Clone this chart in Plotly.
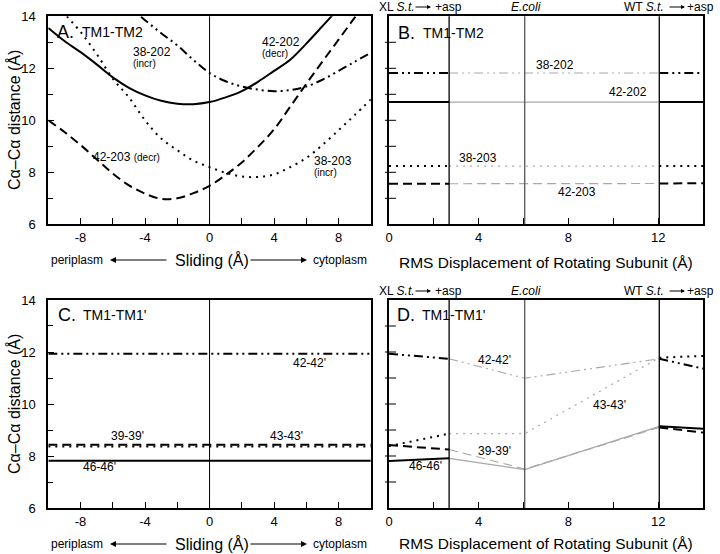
import plotly.graph_objects as go

# ---- data ----
# panel A: Ca-Ca distance vs sliding (A)
slide_x = [-10, -9, -8, -7, -6, -5, -4, -3, -2, -1, 0, 1, 2, 3, 4, 5, 6, 7, 8, 9, 10]
tm2_42_202 = [13.55, 13.05, 12.62, 12.15, 11.65, 11.25, 10.96, 10.75, 10.64, 10.62, 10.70,
              10.88, 11.12, 11.48, 11.90, 12.33, 12.95, 13.62, 14.30, 15.00, 15.70]
tm2_42_203 = [10.00, 9.55, 9.05, 8.50, 7.95, 7.50, 7.18, 6.98, 7.00, 7.20, 7.48,
              7.90, 8.38, 8.98, 9.65, 10.52, 11.40, 12.26, 13.10, 13.95, 14.80]
tm2_38_203 = [14.80, 14.10, 13.40, 12.55, 11.60, 10.88, 10.00, 9.30, 8.85, 8.45, 8.20,
              7.98, 7.84, 7.82, 7.92, 8.20, 8.55, 9.05, 9.62, 10.20, 10.80]
tm2_38_202 = [17.20, 16.60, 16.00, 15.40, 14.90, 14.38, 13.85, 13.35, 12.88, 12.32, 11.82,
              11.50, 11.30, 11.18, 11.12, 11.16, 11.30, 11.56, 11.90, 12.25, 12.60]

# panels B/D: RMS displacement of rotating subunit
rms_x = [0, 2.68, 6.05, 12.05, 14]
b_38_202 = [11.82, 11.82, 11.82, 11.82, 11.82]
b_42_202 = [10.70, 10.70, 10.70, 10.70, 10.70]
b_38_203 = [8.24, 8.24, 8.24, 8.24, 8.24]
b_42_203 = [7.56, 7.56, 7.56, 7.57, 7.58]

d_42_42 = [11.93, 11.74, 10.99, 11.74, 11.36]
d_43_43 = [8.38, 8.86, 8.86, 11.78, 11.85]
d_39_39 = [8.42, 8.25, 7.50, 9.10, 8.90]
d_46_46 = [7.81, 7.91, 7.48, 9.14, 9.05]

# panel C: TM1-TM1' does not change with sliding
c_x = [-10, 10]
c_42_42 = [11.93, 11.93]
c_39_39 = [8.43, 8.43]
c_43_43 = [8.37, 8.37]
c_46_46 = [7.82, 7.82]

strain_x = [2.68, 6.05, 12.05]

slide_ticks = [-8, -4, 0, 4, 8]
slide_text = ["-8", "-4", "0", "4", "8"]
rms_ticks = [0, 4, 8, 12]
dist_ticks = [6, 8, 10, 12, 14]
side_ticks = [7, 8, 9, 10, 11, 12, 13]

FONT = "Liberation Sans, Arial, DejaVu Sans"
DASH = "9px,5px"
DOT = "2px,5px"
DDOT = "9px,4px,2px,4px,2px,4px"
GRAY = "#a8a8a8"

fig = go.Figure()


def line(x, y, ax, dash, color="black", width=2, shape="linear"):
    fig.add_trace(go.Scatter(x=x, y=y, mode="lines", xaxis=ax[0], yaxis=ax[1],
                             line=dict(color=color, width=width, dash=dash, shape=shape),
                             showlegend=False, hoverinfo="skip"))


# A
for ys, d in [(tm2_42_202, "solid"), (tm2_42_203, DASH), (tm2_38_203, DOT), (tm2_38_202, DDOT)]:
    line(slide_x, ys, ("x", "y"), d, shape="spline")

# C
for ys, d in [(c_42_42, DDOT), (c_39_39, DASH), (c_43_43, DOT), (c_46_46, "solid")]:
    line(c_x, ys, ("x3", "y3"), d)


def segmented(ys, ax, d):
    line(rms_x[:2], ys[:2], ax, d)
    line(rms_x[1:4], ys[1:4], ax, d, color=GRAY, width=1.2)
    line(rms_x[3:], ys[3:], ax, d)


for ys, d in [(b_38_202, DDOT), (b_42_202, "solid"), (b_38_203, DOT), (b_42_203, DASH)]:
    segmented(ys, ("x2", "y2"), d)
for ys, d in [(d_42_42, DDOT), (d_43_43, DOT), (d_39_39, DASH), (d_46_46, "solid")]:
    segmented(ys, ("x4", "y4"), d)

# domains in paper fractions (720 x 554 page, zero margins)
xl = [0.0671, 0.515]
xr = [0.5403, 0.9764]
yt = [0.5951, 0.9706]
yb = [0.0830, 0.4585]

axline = dict(showline=True, linecolor="black", linewidth=2, mirror=True, automargin=False,
              showgrid=False, zeroline=False, ticks="inside", ticklen=6,
              tickcolor="black", tickfont=dict(family=FONT, size=13, color="black"))

sx = dict(axline, range=[-10, 10], tickvals=slide_ticks, ticktext=slide_text,
          ticklabelstandoff=0,
          minor=dict(dtick=2, ticks="inside", ticklen=6, tickcolor="black"))
rx = dict(axline, range=[0, 14], tickvals=rms_ticks, ticklabelstandoff=0,
          minor=dict(dtick=2, ticks="inside", ticklen=6, tickcolor="black"))
ly = dict(axline, range=[6, 14], tickvals=dist_ticks, ticklabelstandoff=8,
          minor=dict(dtick=1, ticks="inside", ticklen=5, tickcolor="black"))
ry = dict(axline, range=[6, 14], showticklabels=False, ticks="")

fig.update_layout(
    width=720, height=554, margin=dict(l=0, r=0, t=0, b=0, autoexpand=False),
    paper_bgcolor="white", plot_bgcolor="white",
    font=dict(family=FONT, color="black"),
    xaxis=dict(sx, domain=xl, anchor="y"),
    yaxis=dict(ly, domain=yt, anchor="x"),
    xaxis2=dict(rx, domain=xr, anchor="y2"),
    yaxis2=dict(ry, domain=yt, anchor="x2"),
    xaxis3=dict(sx, domain=xl, anchor="y3"),
    yaxis3=dict(ly, domain=yb, anchor="x3"),
    xaxis4=dict(rx, domain=xr, anchor="y4"),
    yaxis4=dict(ry, domain=yb, anchor="x4"),
)

shapes = []
# vertical reference lines
for xa, ya in [("x", "y"), ("x3", "y3")]:
    shapes.append(dict(type="line", xref=xa, yref=ya + " domain", x0=0, x1=0, y0=0, y1=1,
                       line=dict(color="black", width=1)))
for xa, ya in [("x2", "y2"), ("x4", "y4")]:
    for i, sxv in enumerate(strain_x):
        shapes.append(dict(type="line", xref=xa, yref=ya + " domain", x0=sxv, x1=sxv, y0=0, y1=1,
                           line=dict(color="#555" if i == 1 else "black", width=1.3)))
    # ticks crossing the left frame
    for tv in side_ticks:
        shapes.append(dict(type="line", xref=xa + " domain", yref=ya, x0=-0.013, x1=0.022,
                           y0=tv, y1=tv, line=dict(color="black", width=1)))
fig.update_layout(shapes=shapes)

ann = []


def txt(s, x, y, xref, yref, size=12, xanchor="center", angle=0):
    ann.append(dict(text=s, x=x, y=y, xref=xref, yref=yref, showarrow=False,
                    xanchor=xanchor, yanchor="middle", textangle=angle, borderpad=0,
                    font=dict(family=FONT, size=size, color="black")))


# panel titles
for letter, name, px, py in [("A.", "TM1-TM2", 56, 32), ("B.", "TM1-TM2", 397, 33),
                             ("C.", "TM1-TM1'", 57, 315), ("D.", "TM1-TM1'", 396, 315)]:
    txt(letter, px / 720, 1 - py / 554, "paper", "paper", size=18, xanchor="left")
    txt(name, (px + 25) / 720, 1 - py / 554, "paper", "paper", size=14, xanchor="left")

# curve labels A
txt("38-202", -4.8, 12.64, "x", "y", xanchor="left")
txt("(incr)", -4.8, 12.2, "x", "y", size=10, xanchor="left")
txt("42-202", 3.2, 13.0, "x", "y", xanchor="left")
txt("(decr)", 3.2, 12.57, "x", "y", size=10, xanchor="left")
txt("42-203 <span style='font-size:10px'>(decr)</span>", -7.3, 8.59, "x", "y", xanchor="left")
txt("38-203", 6.4, 8.42, "x", "y", xanchor="left")
txt("(incr)", 6.4, 7.98, "x", "y", size=10, xanchor="left")
# B
txt("38-202", 7.41, 12.13, "x2", "y2")
txt("42-202", 10.67, 11.1, "x2", "y2")
txt("38-203", 3.97, 8.54, "x2", "y2")
txt("42-203", 8.39, 7.25, "x2", "y2")
# C
txt("42-42'", 6.17, 11.59, "x3", "y3")
txt("39-39'", -5.06, 8.77, "x3", "y3")
txt("43-43'", 4.75, 8.77, "x3", "y3")
txt("46-46'", -6.8, 7.59, "x3", "y3")
# D
txt("42-42'", 4.71, 11.68, "x4", "y4")
txt("43-43'", 9.84, 9.96, "x4", "y4")
txt("39-39'", 4.69, 8.19, "x4", "y4")
txt("46-46'", 1.61, 7.62, "x4", "y4")

# axis titles
for yc in [120, 404]:
    txt("Cα–Cα distance (Å)", 14 / 720, 1 - yc / 554, "paper", "paper", size=16, angle=-90)
for yc in [260, 544]:
    py = 1 - yc / 554
    txt("Sliding (Å)", 212 / 720, py, "paper", "paper", size=16)
    txt("periplasm", 50 / 720, py, "paper", "paper", size=12, xanchor="left")
    txt("cytoplasm", 312 / 720, py, "paper", "paper", size=12, xanchor="left")
    ann.append(dict(x=110 / 720, y=py, xref="paper", yref="paper", text="", showarrow=True,
                    ax=58, ay=0, arrowhead=2, arrowsize=1, arrowwidth=1.2, arrowcolor="black"))
    ann.append(dict(x=307 / 720, y=py, xref="paper", yref="paper", text="", showarrow=True,
                    ax=-58, ay=0, arrowhead=2, arrowsize=1, arrowwidth=1.2, arrowcolor="black"))
for yc in [262, 543]:
    txt("RMS Displacement of Rotating Subunit (Å)", 546 / 720, 1 - yc / 554, "paper", "paper",
        size=15.5)

# strain headers above B and D, arrows drawn as annotation arrows
for yc in [7, 291]:
    py = 1 - yc / 554
    txt("XL <i>S.t.</i>", 378 / 720, py, "paper", "paper", size=12, xanchor="left")
    txt("+asp", 463 / 720, py, "paper", "paper", size=12, xanchor="right")
    txt("<i>E.coli</i>", 526 / 720, py, "paper", "paper", size=12)
    txt("WT <i>S.t.</i>", 623 / 720, py, "paper", "paper", size=12, xanchor="left")
    txt("+asp", 715 / 720, py, "paper", "paper", size=12, xanchor="right")
    for head, tail in [(431, -17), (685, -17)]:
        ann.append(dict(x=head / 720, y=py, xref="paper", yref="paper", text="", showarrow=True,
                        ax=tail, ay=0, arrowhead=2, arrowsize=0.8, arrowwidth=1,
                        arrowcolor="black"))

fig.update_layout(annotations=ann)

fig.write_html(
    "out.html",
    config={"displayModeBar": False},
    post_script="document.body.style.margin='0';"
                "document.body.style.overflow='hidden';"
                "document.documentElement.style.overflow='hidden';",
)
